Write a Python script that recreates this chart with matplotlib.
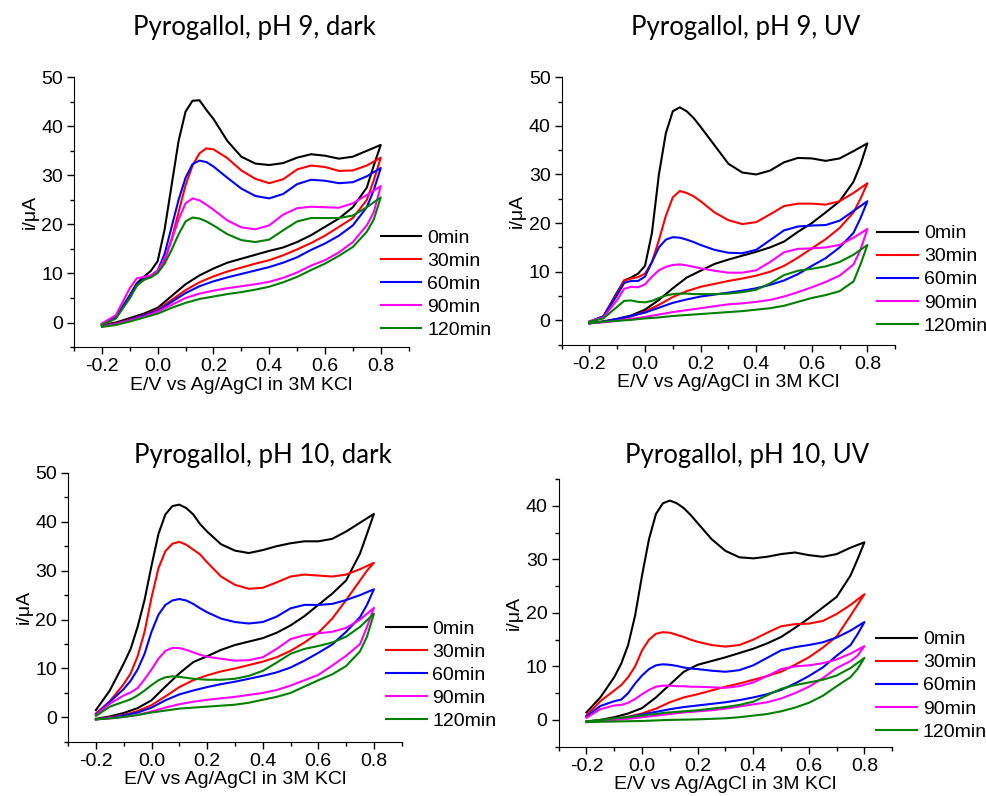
import matplotlib
matplotlib.use("Agg")
import matplotlib.pyplot as plt
from matplotlib.ticker import MultipleLocator

plt.rcParams['font.family'] = ['Liberation Sans', 'DejaVu Sans']

# potential grids (V vs Ag/AgCl) for the anodic (forward) and cathodic (reverse) sweeps
E_FWD = [-0.2, -0.15, -0.1, -0.075, -0.05, -0.025, 0.0, 0.025, 0.05, 0.075, 0.1, 0.125,
         0.15, 0.175, 0.2, 0.25, 0.3, 0.35, 0.4, 0.45, 0.5, 0.55, 0.6, 0.65, 0.7, 0.75, 0.8]
E_REV = [0.8, 0.775, 0.75, 0.7, 0.65, 0.6, 0.55, 0.5, 0.45, 0.4, 0.35, 0.3, 0.25, 0.2,
         0.15, 0.1, 0.05, 0.0, -0.05, -0.1, -0.15, -0.2]

labels = ['0min', '30min', '60min', '90min', '120min']
colors = ['black', '#ff0000', '#0000ff', '#ff00ff', '#008000']

titles = ['Pyrogallol, pH 9, dark', 'Pyrogallol, pH 9, UV',
          'Pyrogallol, pH 10, dark', 'Pyrogallol, pH 10, UV']

# ---- pH 9, dark (current in uA)
ph9d_0_fwd = [-0.3, 1.2, 5.5, 8.0, 9.3, 10.5, 12.5, 19, 28, 37, 43, 45.2, 45.3, 43.3, 41.5, 37, 33.8, 32.4, 32.1, 32.5, 33.6, 34.3, 34, 33.4, 33.8, 35, 36.2]
ph9d_0_rev = [36.2, 32, 27.5, 23.5, 21.2, 19.5, 17.8, 16.4, 15.3, 14.6, 13.8, 13.0, 12.2, 11.0, 9.6, 7.8, 5.4, 3.0, 1.8, 0.9, 0.0, -0.5]
ph9d_30_fwd = [-0.3, 1.0, 5, 7.5, 8.7, 9.3, 10.2, 12.5, 17, 22.5, 28, 32, 34.5, 35.5, 35.3, 33.5, 31, 29.3, 28.4, 29.2, 31.2, 32, 31.7, 30.9, 31, 32, 33.6]
ph9d_30_rev = [33.6, 29, 25, 21.3, 19.5, 17.7, 16.2, 14.9, 13.7, 12.7, 12.0, 11.2, 10.4, 9.4, 8.2, 6.6, 4.6, 2.6, 1.5, 0.6, -0.2, -0.6]
ph9d_60_fwd = [-0.3, 1.0, 5.5, 7.8, 8.8, 9.5, 10.6, 14, 19.5, 25, 29.5, 32.3, 33, 32.7, 31.8, 29.5, 27.3, 25.8, 25.3, 26.2, 28.2, 29.1, 28.9, 28.4, 28.6, 29.8, 31.5]
ph9d_60_rev = [31.5, 27, 23.5, 19.8, 17.7, 16.1, 14.8, 13.3, 12.2, 11.3, 10.6, 9.9, 9.2, 8.4, 7.4, 6.0, 4.2, 2.4, 1.4, 0.5, -0.3, -0.7]
ph9d_90_fwd = [-0.2, 1.5, 7.0, 9.0, 9.3, 9.6, 10.6, 13, 16.8, 21, 24.3, 25.3, 24.9, 24, 23, 20.8, 19.4, 19, 19.8, 22, 23.3, 23.6, 23.5, 23.4, 24.3, 26, 27.8]
ph9d_90_rev = [27.8, 22.5, 19.8, 16.4, 14.3, 12.7, 11.6, 10.2, 9.1, 8.3, 7.8, 7.4, 7.0, 6.5, 5.9, 5.0, 3.6, 2.2, 1.2, 0.4, -0.3, -0.8]
ph9d_120_fwd = [-0.5, 0.8, 5, 7.5, 8.7, 9.2, 10.1, 12, 14.8, 18, 20.6, 21.4, 21.2, 20.6, 19.8, 18, 16.8, 16.4, 16.9, 18.8, 20.6, 21.3, 21.3, 21.3, 21.8, 23.5, 25.5]
ph9d_120_rev = [25.5, 21, 18.5, 15.4, 13.6, 12.0, 10.7, 9.3, 8.2, 7.3, 6.7, 6.2, 5.8, 5.3, 4.8, 4.0, 3.0, 1.8, 1.0, 0.2, -0.5, -0.9]

# ---- pH 9, UV
ph9u_0_fwd = [-0.3, 0.8, 5.8, 8.2, 8.8, 9.6, 11.2, 18, 30, 38.5, 43, 43.8, 43.0, 41.6, 39.8, 36, 32.2, 30.4, 30.0, 30.8, 32.5, 33.4, 33.3, 32.8, 33.3, 34.8, 36.4]
ph9u_0_rev = [36.4, 32, 28.5, 24.5, 22.2, 20.0, 18.2, 16.2, 15.0, 14.1, 13.3, 12.5, 11.6, 10.2, 8.8, 6.6, 4.2, 2.2, 1.0, 0.3, -0.2, -0.6]
ph9u_30_fwd = [-0.3, 0.8, 5.5, 8.2, 8.6, 8.9, 9.6, 12, 16.5, 21.5, 25.3, 26.6, 26.2, 25.5, 24.5, 22.2, 20.6, 19.8, 20.2, 21.8, 23.5, 24, 24, 23.8, 24.5, 26.2, 28.2]
ph9u_30_rev = [28.2, 25, 22.2, 19.0, 16.7, 14.8, 12.9, 11.2, 10.0, 9.2, 8.6, 8.1, 7.5, 6.9, 6.0, 4.8, 3.2, 1.8, 0.8, 0.2, -0.3, -0.6]
ph9u_60_fwd = [-0.3, 0.8, 5.2, 7.7, 8.1, 8.1, 9.0, 12.0, 15.0, 16.6, 17.1, 17.0, 16.6, 16.1, 15.5, 14.5, 13.9, 13.8, 14.5, 16.5, 18.5, 19.3, 19.5, 19.6, 20.5, 22.5, 24.5]
ph9u_60_rev = [24.5, 21, 18, 15.0, 12.8, 11.2, 9.5, 8.2, 7.3, 6.6, 6.1, 5.7, 5.3, 4.9, 4.3, 3.6, 2.6, 1.6, 0.9, 0.3, -0.3, -0.6]
ph9u_90_fwd = [-0.2, 0.6, 4.2, 6.5, 6.9, 6.8, 7.4, 9.0, 10.3, 11.0, 11.4, 11.5, 11.3, 11.0, 10.7, 10.2, 9.8, 9.8, 10.3, 12, 14, 14.7, 14.8, 15, 15.5, 17, 18.8]
ph9u_90_rev = [18.8, 14.5, 11.5, 9.2, 7.9, 6.8, 5.8, 4.9, 4.2, 3.8, 3.5, 3.3, 2.9, 2.5, 2.1, 1.7, 1.2, 0.7, 0.3, -0.1, -0.4, -0.6]
ph9u_120_fwd = [-0.3, 0.4, 2.8, 4.0, 4.1, 3.8, 3.7, 4.0, 4.6, 5.1, 5.4, 5.5, 5.5, 5.4, 5.4, 5.4, 5.5, 5.8, 6.3, 7.6, 9.3, 10.2, 10.6, 11.1, 12.0, 13.5, 15.5]
ph9u_120_rev = [15.5, 11.5, 8.0, 6.0, 5.2, 4.6, 3.8, 3.0, 2.5, 2.2, 1.9, 1.7, 1.5, 1.3, 1.1, 0.9, 0.6, 0.4, 0.1, -0.1, -0.3, -0.6]

# ---- pH 10, dark
ph10d_0_fwd = [1.5, 5.5, 11, 14, 18.5, 24, 31, 37.5, 41.5, 43.2, 43.5, 42.8, 41.5, 39.5, 38, 35.4, 34.1, 33.6, 34.2, 35.0, 35.6, 36, 36, 36.5, 38, 39.8, 41.6]
ph10d_0_rev = [41.6, 37.5, 33.5, 28.0, 25.3, 23.0, 20.7, 18.8, 17.3, 16.2, 15.5, 14.8, 13.8, 12.5, 11.3, 9.0, 6.3, 3.5, 1.9, 0.9, 0.2, -0.3]
ph10d_30_fwd = [0.8, 3.3, 6.8, 9.0, 12.5, 17.5, 24.5, 30.5, 34, 35.5, 35.9, 35.3, 34.3, 33.3, 31.7, 28.8, 27.1, 26.3, 26.5, 27.6, 28.8, 29.2, 29, 28.8, 29.2, 30.3, 31.6]
ph10d_30_rev = [31.6, 30.0, 28, 24, 20.2, 17.3, 15.3, 13.6, 12.3, 11.4, 10.7, 10.0, 9.4, 8.6, 7.6, 6.2, 4.3, 2.5, 1.3, 0.5, 0.0, -0.4]
ph10d_60_fwd = [0.6, 3.2, 5.8, 7.5, 9.8, 13, 17.5, 21, 23, 23.9, 24.2, 23.9, 23.2, 22.3, 21.5, 20.2, 19.5, 19.2, 19.5, 20.6, 22.3, 23, 23, 23.2, 24, 25, 26.2]
ph10d_60_rev = [26.2, 23.0, 20.5, 17.5, 14.9, 13.2, 11.6, 10.2, 9.2, 8.5, 7.9, 7.3, 6.8, 6.2, 5.5, 4.7, 3.5, 2.0, 1.0, 0.4, -0.1, -0.4]
ph10d_90_fwd = [0.5, 2.8, 4.5, 5.1, 6.0, 7.8, 9.8, 12.0, 13.6, 14.2, 14.2, 13.8, 13.3, 12.8, 12.4, 12.0, 11.6, 11.7, 12.3, 14, 16, 16.8, 17.2, 17.5, 18.3, 20, 22.4]
ph10d_90_rev = [22.4, 18.5, 15.0, 12.6, 10.6, 8.7, 7.6, 6.5, 5.6, 5.0, 4.6, 4.2, 3.9, 3.6, 3.2, 2.7, 2.0, 1.2, 0.5, 0.1, -0.2, -0.4]
ph10d_120_fwd = [0.3, 2.2, 3.2, 3.7, 4.5, 5.5, 6.6, 7.6, 8.2, 8.4, 8.3, 8.1, 7.9, 7.8, 7.7, 7.7, 7.9, 8.5, 9.5, 11.2, 13, 14, 14.6, 15.3, 16.5, 18.5, 21.2]
ph10d_120_rev = [21.2, 16.5, 13.5, 10.5, 8.8, 7.6, 6.3, 5.0, 4.2, 3.6, 3.0, 2.6, 2.4, 2.2, 2.0, 1.8, 1.4, 1.0, 0.5, 0.1, -0.2, -0.4]

# ---- pH 10, UV
ph10u_0_fwd = [1.4, 4.2, 8, 10.5, 14, 19.5, 27, 33.8, 38.5, 40.5, 41.0, 40.5, 39.6, 38.3, 36.8, 33.8, 31.6, 30.4, 30.2, 30.5, 31, 31.3, 30.8, 30.5, 31, 32.2, 33.2]
ph10u_0_rev = [33.2, 30.0, 27.0, 23.0, 21.0, 19.0, 17.2, 15.5, 14.3, 13.3, 12.5, 11.7, 11.0, 10.3, 9.0, 6.6, 4.2, 2.2, 1.2, 0.5, 0.0, -0.3]
ph10u_30_fwd = [0.8, 3.5, 5.5, 6.5, 8.0, 10.0, 13.0, 15.0, 16.1, 16.4, 16.3, 15.9, 15.5, 15.0, 14.6, 14.0, 13.7, 14.0, 15.0, 16.3, 17.5, 17.9, 18, 18.5, 19.8, 21.5, 23.5]
ph10u_30_rev = [23.5, 21.5, 19.5, 15.6, 13.5, 11.7, 10.3, 9.0, 8.2, 7.5, 6.8, 6.2, 5.5, 4.8, 4.2, 3.3, 2.1, 1.2, 0.6, 0.2, -0.1, -0.3]
ph10u_60_fwd = [0.6, 2.6, 3.5, 3.8, 5.0, 6.8, 8.3, 9.5, 10.2, 10.4, 10.3, 10.1, 9.8, 9.6, 9.5, 9.2, 9.0, 9.3, 10.2, 11.6, 13, 13.6, 14, 14.5, 15.4, 16.7, 18.3]
ph10u_60_rev = [18.3, 16.0, 14.0, 12.0, 9.8, 8.2, 6.8, 5.6, 4.8, 4.2, 3.7, 3.3, 3.0, 2.7, 2.4, 2.0, 1.5, 1.0, 0.5, 0.1, -0.2, -0.4]
ph10u_90_fwd = [0.4, 2.0, 2.7, 2.8, 3.2, 3.9, 4.8, 5.6, 6.2, 6.4, 6.4, 6.3, 6.3, 6.2, 6.2, 6.1, 6.0, 6.3, 7.0, 8.2, 9.5, 10, 10.2, 10.6, 11.3, 12.4, 13.8]
ph10u_90_rev = [13.8, 12.0, 11.0, 9.7, 7.8, 6.2, 5.0, 4.0, 3.3, 2.9, 2.5, 2.1, 1.8, 1.6, 1.4, 1.1, 0.8, 0.5, 0.2, 0.0, -0.2, -0.4]
ph10u_120_fwd = [-0.3, 0.0, 0.3, 0.4, 0.5, 0.7, 0.8, 1.0, 1.1, 1.3, 1.4, 1.5, 1.6, 1.7, 1.8, 2.1, 2.4, 2.8, 3.4, 4.6, 5.8, 6.5, 7.0, 7.5, 8.3, 9.7, 11.6]
ph10u_120_rev = [11.6, 9.5, 8.0, 6.3, 4.5, 3.2, 2.3, 1.6, 1.1, 0.8, 0.5, 0.3, 0.2, 0.1, 0.05, 0.0, -0.1, -0.2, -0.25, -0.3, -0.35, -0.4]

panels = [
    ([ph9d_0_fwd, ph9d_30_fwd, ph9d_60_fwd, ph9d_90_fwd, ph9d_120_fwd],
     [ph9d_0_rev, ph9d_30_rev, ph9d_60_rev, ph9d_90_rev, ph9d_120_rev]),
    ([ph9u_0_fwd, ph9u_30_fwd, ph9u_60_fwd, ph9u_90_fwd, ph9u_120_fwd],
     [ph9u_0_rev, ph9u_30_rev, ph9u_60_rev, ph9u_90_rev, ph9u_120_rev]),
    ([ph10d_0_fwd, ph10d_30_fwd, ph10d_60_fwd, ph10d_90_fwd, ph10d_120_fwd],
     [ph10d_0_rev, ph10d_30_rev, ph10d_60_rev, ph10d_90_rev, ph10d_120_rev]),
    ([ph10u_0_fwd, ph10u_30_fwd, ph10u_60_fwd, ph10u_90_fwd, ph10u_120_fwd],
     [ph10u_0_rev, ph10u_30_rev, ph10u_60_rev, ph10u_90_rev, ph10u_120_rev]),
]

# axes boxes [left, bottom, width, height] in figure fraction
boxes = [[0.075, 0.564, 0.339, 0.339],
         [0.569, 0.567, 0.338, 0.336],
         [0.069, 0.068, 0.338, 0.338],
         [0.566, 0.062, 0.338, 0.336]]
ylims = [(-5, 50), (-5, 50), (-5, 50), (-5, 45)]
leg_anchor = [(0.916, 0.233), (0.946, 0.243), (0.952, 0.249), (0.952, 0.228)]
title_pos = [(0.258, 0.965), (0.755, 0.965), (0.266, 0.428), (0.757, 0.428)]


def draw_cv(ax, fwd_list, rev_list):
    for fwd, rev, c, lab in zip(fwd_list, rev_list, colors, labels):
        ax.plot(E_FWD + E_REV, fwd + rev, color=c, lw=1.5, label=lab,
                solid_joinstyle='round')


fig = plt.figure(figsize=(9.87, 7.96), dpi=100)

for k in range(4):
    ax = fig.add_axes(boxes[k])
    draw_cv(ax, panels[k][0], panels[k][1])
    ax.set_xlim(-0.3, 0.9)
    ax.set_ylim(*ylims[k])
    ax.set_xticks([-0.2, 0.0, 0.2, 0.4, 0.6, 0.8])
    ax.set_xticklabels(['-0.2', '0.0', '0.2', '0.4', '0.6', '0.8'])
    ax.xaxis.set_minor_locator(MultipleLocator(0.1))
    ax.yaxis.set_major_locator(MultipleLocator(10))
    ax.yaxis.set_minor_locator(MultipleLocator(5))
    ax.tick_params(which='major', length=5, width=1, labelsize=14, pad=3)
    ax.tick_params(which='minor', length=3, width=1)
    ax.spines['top'].set_visible(False)
    ax.spines['right'].set_visible(False)
    ax.set_xlabel('E/V vs Ag/AgCl in 3M KCl', fontsize=14, labelpad=1)
    ax.set_ylabel('i/μA', fontsize=14, labelpad=2)
    ax.legend(loc='center left', bbox_to_anchor=leg_anchor[k], frameon=False,
              fontsize=14, handlelength=2.1, handletextpad=0.3, labelspacing=0.28,
              borderpad=0, borderaxespad=0)
    fig.text(title_pos[k][0], title_pos[k][1], titles[k], ha='center', va='center',
             fontsize=18.5, family=['Lato', 'DejaVu Sans'])

fig.savefig('out.png', dpi=100)
